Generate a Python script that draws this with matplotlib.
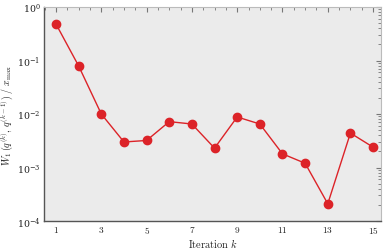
import numpy as np
import matplotlib
matplotlib.use('Agg')
import matplotlib.pyplot as plt
from matplotlib.ticker import LogLocator, MultipleLocator, FixedLocator, NullFormatter

plt.rcParams['mathtext.fontset'] = 'cm'
plt.rcParams['font.family'] = 'serif'
plt.rcParams['font.serif'] = ['DejaVu Serif']

# iteration index and normalised W1 distance between successive iterates
iterations = [1, 2, 3, 4, 5, 6, 7, 8, 9, 10, 11, 12, 13, 14, 15]
w1_dist = [0.48, 0.079, 0.0100, 0.0030, 0.0032, 0.0072, 0.0065, 0.0023,
           0.0088, 0.0065, 0.0018, 0.0012, 0.00021, 0.0044, 0.0024]
xtick_vals = [1, 3, 5, 7, 9, 11, 13, 15]

fig = plt.figure(figsize=(3.85, 2.51), dpi=100)
ax = fig.add_axes([44/385, 1 - 222/251, (381-44)/385, (222-8)/251])
ax.set_facecolor('#ebebeb')

ax.plot(iterations, w1_dist, color='#dc2328', lw=1.0, marker='o', ms=6,
        mec='#dc2328', mfc='#dc2328')

ax.set_yscale('log')
ax.set_ylim(1e-4, 1)
ax.set_xlim(0.47, 15.35)

ax.xaxis.set_major_locator(FixedLocator(xtick_vals))
ax.set_xticklabels([r'$%d$' % v for v in xtick_vals])
ax.xaxis.set_minor_locator(MultipleLocator(0.5))
ax.yaxis.set_major_locator(LogLocator(base=10, numticks=10))
ax.yaxis.set_minor_locator(LogLocator(base=10, subs=np.arange(2, 10), numticks=10))
ax.yaxis.set_minor_formatter(NullFormatter())

ax.tick_params(which='both', direction='in', top=True, right=True,
               bottom=False, left=False, color='#777777', labelsize=6.8,
               labelcolor='#222222')
ax.tick_params(which='major', length=3.5, width=0.8)
ax.tick_params(which='minor', length=2, width=0.6)
ax.tick_params(axis='x', which='both', labelbottom=True, pad=2)
ax.tick_params(axis='y', which='both', labelleft=True, pad=2.5)

for side in ['left', 'bottom']:
    ax.spines[side].set_color('#555555')
    ax.spines[side].set_linewidth(1.0)
for side in ['right', 'top']:
    ax.spines[side].set_color('#bbbbbb')
    ax.spines[side].set_linewidth(0.8)

ax.set_xlabel(r'$\mathrm{Iteration}\ k$', fontsize=7.5, color='#222222', labelpad=1)
ax.set_ylabel(r'$W_1\,(q^{(k)},\, q^{(k-1)})\ /\ x_{\max}$', fontsize=7.2,
              color='#222222', labelpad=1)

fig.savefig('out.png', dpi=100)
